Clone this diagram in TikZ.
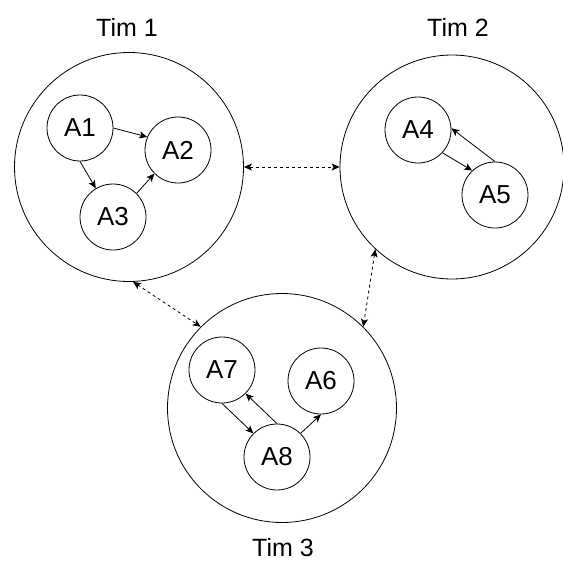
\documentclass[tikz,border=0pt]{standalone}
\usepackage{fontspec}
\setmainfont{Liberation Sans}
\usetikzlibrary{arrows.meta,positioning}

\tikzset{
  team/.style={draw,circle,minimum size=229pt,inner sep=0pt,line width=0.8pt},
  agent/.style={draw,circle,minimum size=66pt,inner sep=0pt,line width=0.8pt,font=\fontsize{26}{30}\selectfont},
  teamname/.style={font=\fontsize{25}{29}\selectfont},
  link/.style={-{Stealth[length=8pt,width=7pt,inset=2pt]},line width=0.8pt},
  comm/.style={{Stealth[length=8pt,width=7pt,inset=2pt]}-{Stealth[length=8pt,width=7pt,inset=2pt]},dash pattern=on 3pt off 3pt,line width=0.8pt},
}

\begin{document}
\begin{tikzpicture}[x=1pt,y=-1pt]
\useasboundingbox (0,0) rectangle (563,563);

\node[team](team1) at (129,167) {};
\node[team,minimum size=224pt](team2) at (452,167) {};
\node[team](team3) at (282,408) {};

\node[teamname](name1) at (127,27) {Tim 1};
\node[teamname](name2) at (458,27) {Tim 2};
\node[teamname](name3) at (283,548) {Tim 3};

% tim 1
\node[agent](a1) at (80,128) {A1};
\node[agent](a2) at (178,150) {A2};
\node[agent](a3) at (113,217) {A3};
\draw[link] (a1.east) -- (a2.157);
\draw[link] (a1.south) -- (a3.121);
\draw[link] (a3.45) -- (a2.225);

% tim 2
\node[agent](a4) at (418,130) {A4};
\node[agent](a5) at (495,195) {A5};
\draw[link] (a4.-43) -- (a5.133);
\draw[link] (a5.north) -- (a4.3);

% tim 3
\node[agent](a7) at (222,370) {A7};
\node[agent](a6) at (321,381) {A6};
\node[agent](a8) at (277,457) {A8};
\draw[link] (a7.south) -- (a8.135);
\draw[link] (a8.north) -- (a7.-45);
\draw[link] (a8.45) -- (a6.south);

% antar tim
\draw[comm] (team1.east) -- (team2.west);
\draw[comm] (team1.-88) -- (team3.135);
\draw[comm] (team2.227) -- (team3.45);

\end{tikzpicture}
\end{document}
